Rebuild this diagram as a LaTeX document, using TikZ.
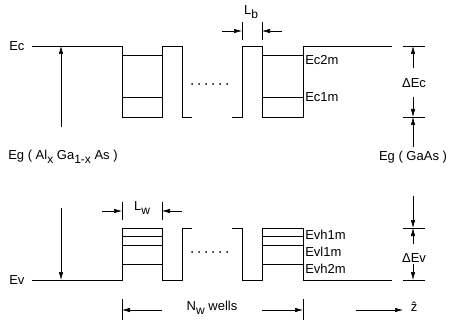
\documentclass[tikz,border=0pt]{standalone}
\usepackage{fontspec}
\setmainfont{Liberation Sans}
\usetikzlibrary{arrows.meta}
\newcommand{\lsub}[1]{\raisebox{-4pt}{\fontsize{12}{12}\selectfont #1}}
\begin{document}
\begin{tikzpicture}[x=1pt,y=-1pt,line width=0.6pt,
  band/.style={line width=0.75pt},
  lvl/.style={line width=0.6pt},
  dim/.style={-{Latex[length=8pt,width=4.4pt]},line width=0.6pt},
  tickline/.style={line width=0.6pt},
  lbl/.style={font=\fontsize{13}{15}\selectfont,inner sep=0pt}]
\useasboundingbox (0,0) rectangle (450,326);
% conduction band
\draw[band] (32,46) -- (122,46) -- (122,117) -- (162,117) -- (162,46) -- (182,46) -- (182,117) -- (192,117);
\draw[band] (232,117) -- (242,117) -- (242,46) -- (262,46) -- (262,117) -- (303,117) -- (303,46) -- (392,46);
\foreach \y in {55,97}{
  \draw[lvl] (122,\y) -- (162,\y);
  \draw[lvl] (262,\y) -- (303,\y);
}
\foreach \x in {192,199,...,227}{\fill (\x,84) circle (1);}
% valence band
\draw[band] (32,280) -- (122,280) -- (122,228) -- (162,228) -- (162,280) -- (182,280) -- (182,228) -- (192,228);
\draw[band] (232,228) -- (242,228) -- (242,280) -- (262,280) -- (262,228) -- (303,228) -- (303,280) -- (392,280);
\foreach \y in {236,245,264}{
  \draw[lvl] (122,\y) -- (162,\y);
  \draw[lvl] (262,\y) -- (303,\y);
}
\foreach \x in {192,199,...,227}{\fill (\x,252) circle (1);}
% labels
\node[lbl,anchor=west] (ec) at (9,46) {Ec};
\node[lbl,anchor=west] (ev) at (9,280) {Ev};
\node[lbl,anchor=west] (ec2) at (305,60) {Ec2m};
\node[lbl,anchor=west] (ec1) at (305,97) {Ec1m};
\node[lbl,anchor=west] (evh1) at (305,235) {Evh1m};
\node[lbl,anchor=west] (evl1) at (305,252) {Evl1m};
\node[lbl,anchor=west] (evh2) at (305,269) {Evh2m};
% left Eg
\node[lbl,anchor=west] (egl) at (8,157) {Eg ( Al\lsub{x} Ga\lsub{1-x} As )};
\draw[dim] (61,127) -- (61,46);
\draw[dim] (61,208) -- (61,280);
% right dimension column
\foreach \y in {46,117,228,280}{\draw[tickline] (403,\y) -- (425,\y);}
\draw[dim] (413,68) -- (413,46);
\node[lbl] (dec) at (414,83) {ΔEc};
\draw[dim] (413,97) -- (413,117);
\draw[dim] (413,147) -- (413,117);
\node[lbl] (egr) at (413,157) {Eg ( GaAs )};
\draw[dim] (413,196) -- (413,228);
\draw[dim] (413,244) -- (413,228);
\node[lbl] (dev) at (414,258) {ΔEv};
\draw[dim] (413,264) -- (413,280);
% Lb
\draw[tickline] (242,22) -- (242,40);
\draw[tickline] (262,22) -- (262,40);
\draw[dim] (222,31) -- (242,31);
\draw[dim] (282,31) -- (262,31);
\node[lbl] (lb) at (251,12) {L\lsub{b}};
% Lw
\draw[tickline] (122,202) -- (122,220);
\draw[tickline] (162,202) -- (162,220);
\draw[dim] (102,211) -- (122,211);
\draw[dim] (182,211) -- (162,211);
\node[lbl] (lw) at (142,208) {L\lsub{w}};
% Nw wells
\draw[tickline] (122,299) -- (122,320);
\draw[tickline] (303,299) -- (303,320);
\draw[dim] (162,310) -- (122,310);
\draw[dim] (262,310) -- (303,310);
\node[lbl] (nw) at (212,308) {N\lsub{w} wells};
% z axis
\draw[dim] (356,310) -- (403,310);
\node[lbl] (z) at (414,307) {ẑ};
\end{tikzpicture}
\end{document}
